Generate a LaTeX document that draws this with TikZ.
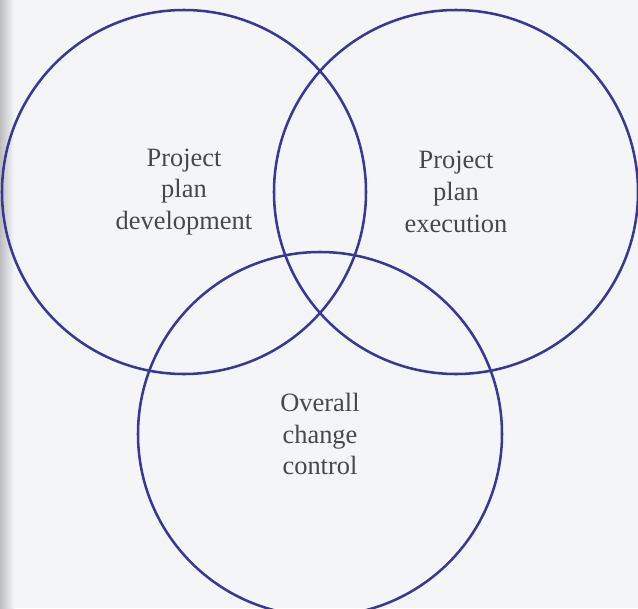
\documentclass[tikz,border=0pt]{standalone}
\usepackage{fontspec}
\setmainfont{Liberation Serif}
\definecolor{pagegray}{RGB}{244,245,246}
\definecolor{edgegray}{RGB}{190,190,192}
\definecolor{ringblue}{RGB}{58,56,150}
\definecolor{inkgray}{RGB}{72,72,74}
\begin{document}
\begin{tikzpicture}[
    font=\fontsize{18.8}{22.5}\selectfont,
    ring/.style={circle, draw=ringblue, line width=1.8pt, minimum size=9.1cm,
                 inner sep=0pt, align=center, text=inkgray}]
    %----------------------
    % PAGE (scanned paper, darker strip at the binding)
    %----------------------
    \useasboundingbox (0,0) rectangle (15.95,-15.2);
    \clip (0,0) rectangle (15.95,-15.2);
    \fill[pagegray] (0,0) rectangle (15.95,-15.2);
    \shade[left color=edgegray, right color=pagegray] (0,0) rectangle (0.35,-15.2);

    %----------------------
    % THREE OVERLAPPING PROCESSES
    %----------------------
    % upper left
    \node[ring] (plandev) at (4.6,-4.8) {Project\\plan\\development};
    % upper right
    \node[ring] (planexec) at (11.4,-4.8) {Project\\plan\\execution};
    % bottom, cut by the page edge
    \node[ring] (changectl) at (8.0,-10.85) {Overall\\change\\control};

\end{tikzpicture}
\end{document}
